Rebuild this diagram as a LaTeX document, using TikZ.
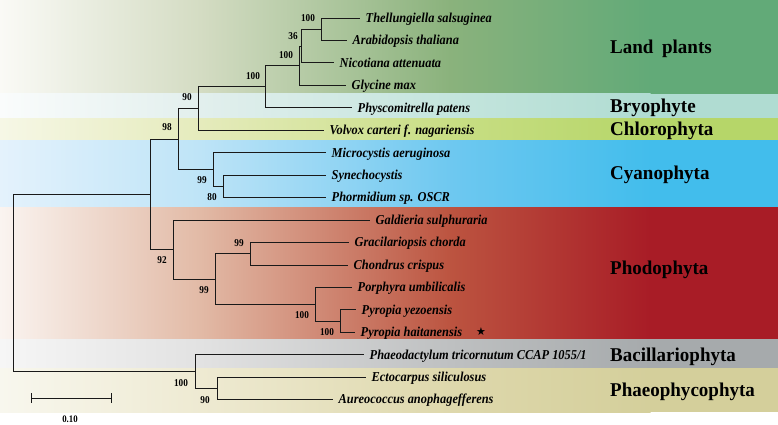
\documentclass[tikz,border=0pt]{standalone}
\usepackage{graphicx}
\usepackage{fontspec}
\setmainfont{Liberation Serif}
\newfontfamily\symfont{DejaVu Sans}
\newcommand{\taxfont}{\fontsize{13.6}{15}\selectfont\bfseries\itshape}
\newcommand{\bsfont}{\fontsize{10.5}{12}\selectfont\bfseries}
\newcommand{\grpfont}{\fontsize{19.5}{22}\selectfont\bfseries}
\newcommand{\tx}[1]{\scalebox{0.91}[1]{#1}}
\newcommand{\bx}[1]{\scalebox{0.88}[1]{#1}}
\newcommand{\gx}[1]{\scalebox{0.975}[1]{#1}}
% band colours: c0 (x=0), c1 (x=200), c2 (x=450), c3 (x>=650)
\definecolor{lpA}{RGB}{250,250,246}\definecolor{lpB}{RGB}{212,220,195}\definecolor{lpC}{RGB}{138,178,124}\definecolor{lpD}{RGB}{98,170,120}
\definecolor{brA}{RGB}{250,252,252}\definecolor{brB}{RGB}{226,239,237}\definecolor{brC}{RGB}{196,229,221}\definecolor{brD}{RGB}{176,220,210}
\definecolor{chA}{RGB}{246,247,230}\definecolor{chB}{RGB}{229,235,188}\definecolor{chC}{RGB}{200,222,132}\definecolor{chD}{RGB}{182,214,105}
\definecolor{cyA}{RGB}{228,242,252}\definecolor{cyB}{RGB}{190,228,247}\definecolor{cyC}{RGB}{110,200,240}\definecolor{cyD}{RGB}{66,189,236}
\definecolor{phA}{RGB}{250,244,240}\definecolor{phB}{RGB}{226,186,166}\definecolor{phC}{RGB}{188,84,64}\definecolor{phD}{RGB}{168,28,38}
\definecolor{baA}{RGB}{246,246,246}\definecolor{baB}{RGB}{226,226,226}\definecolor{baC}{RGB}{190,192,193}\definecolor{baD}{RGB}{166,170,172}
\definecolor{paA}{RGB}{248,247,238}\definecolor{paB}{RGB}{238,234,210}\definecolor{paC}{RGB}{222,216,172}\definecolor{paD}{RGB}{212,207,155}
\newcommand{\mkband}[6]{%
  \shade[left color=#3,right color=#4] (0,#1) rectangle (200.6,#2);
  \shade[left color=#4,right color=#5] (200,#1) rectangle (450.6,#2);
  \shade[left color=#5,right color=#6] (450,#1) rectangle (650.6,#2);
  \fill[#6] (650,#1) rectangle (778,#2);}
\begin{document}
\begin{tikzpicture}[x=1pt,y=-1pt,
  br/.style={draw=black!90,line width=0.8pt},
  taxon/.style={anchor=base west,inner sep=0pt,xshift=5.5pt,yshift=-4.3pt,font=\taxfont},
  bs/.style={inner sep=0pt,font=\bsfont},
  grp/.style={anchor=base west,inner sep=0pt,yshift=-6.4pt,font=\grpfont}]
\useasboundingbox (0,0) rectangle (778,425);
\fill[white] (0,0) rectangle (778,425);
% bands
\mkband{0}{94.3}{lpA}{lpB}{lpC}{lpD}
\mkband{94}{118.3}{brA}{brB}{brC}{brD}
\mkband{118}{140.3}{chA}{chB}{chC}{chD}
\mkband{140}{207.3}{cyA}{cyB}{cyC}{cyD}
\mkband{207}{339.3}{phA}{phB}{phC}{phD}
\mkband{339}{368.3}{baA}{baB}{baC}{baD}
\mkband{368}{412}{paA}{paB}{paC}{paD}
% internal nodes
\coordinate (root) at (13,282.9);
\coordinate (A) at (150,194.25);
\coordinate (B) at (178,139);
\coordinate (C) at (198,108.5);
\coordinate (D) at (265,86.75);
\coordinate (E) at (299.5,65.7);
\coordinate (G) at (301,46.05);
\coordinate (F) at (321,29.2);
\coordinate (H) at (213,169.5);
\coordinate (I) at (223,186.35);
\coordinate (J) at (173,249.5);
\coordinate (K) at (215,278.95);
\coordinate (L) at (250,253.7);
\coordinate (M) at (315,304.2);
\coordinate (N) at (340,321.05);
\coordinate (O) at (195,371.55);
\coordinate (P) at (217,388.4);
% leaf ends
\coordinate (t1) at (360,18);
\coordinate (t2) at (347,40.45);
\coordinate (t3) at (334,62.9);
\coordinate (t4) at (346,85.35);
\coordinate (t5) at (352,107.8);
\coordinate (t6) at (324,130.25);
\coordinate (t7) at (326,152.7);
\coordinate (t8) at (326,175.15);
\coordinate (t9) at (326,197.6);
\coordinate (t10) at (370,220.05);
\coordinate (t11) at (349,242.5);
\coordinate (t12) at (348,264.95);
\coordinate (t13) at (352,287.4);
\coordinate (t14) at (356,309.85);
\coordinate (t15) at (355,332.3);
\coordinate (t16) at (364,354.75);
\coordinate (t17) at (366,377.2);
\coordinate (t18) at (333,399.65);
% branches
\draw[br] (root) |- (A);  \draw[br] (root) |- (O);
\draw[br] (A) |- (B);  \draw[br] (A) |- (J);
\draw[br] (B) |- (C);  \draw[br] (B) |- (H);
\draw[br] (C) |- (D);  \draw[br] (C) |- (t6);
\draw[br] (D) |- (E);  \draw[br] (D) |- (t5);
\draw[br] (E) |- (G);  \draw[br] (E) |- (t4);
\draw[br] (G) |- (F);  \draw[br] (G) |- (t3);
\draw[br] (F) |- (t1); \draw[br] (F) |- (t2);
\draw[br] (H) |- (t7); \draw[br] (H) |- (I);
\draw[br] (I) |- (t8); \draw[br] (I) |- (t9);
\draw[br] (J) |- (t10); \draw[br] (J) |- (K);
\draw[br] (K) |- (L);  \draw[br] (K) |- (M);
\draw[br] (L) |- (t11); \draw[br] (L) |- (t12);
\draw[br] (M) |- (t13); \draw[br] (M) |- (N);
\draw[br] (N) |- (t14); \draw[br] (N) |- (t15);
\draw[br] (O) |- (t16); \draw[br] (O) |- (P);
\draw[br] (P) |- (t17); \draw[br] (P) |- (t18);
% taxa
\node[taxon] (n1) at (t1) {\tx{Thellungiella salsuginea}};
\node[taxon] (n2) at (t2) {\tx{Arabidopsis thaliana}};
\node[taxon] (n3) at (t3) {\tx{Nicotiana attenuata}};
\node[taxon] (n4) at (t4) {\tx{Glycine max}};
\node[taxon] (n5) at (t5) {\tx{Physcomitrella patens}};
\node[taxon] (n6) at (t6) {\tx{Volvox carteri f. nagariensis}};
\node[taxon] (n7) at (t7) {\tx{Microcystis aeruginosa}};
\node[taxon] (n8) at (t8) {\tx{Synechocystis}};
\node[taxon] (n9) at (t9) {\tx{Phormidium sp. OSCR}};
\node[taxon] (n10) at (t10) {\tx{Galdieria sulphuraria}};
\node[taxon] (n11) at (t11) {\tx{Gracilariopsis chorda}};
\node[taxon] (n12) at (t12) {\tx{Chondrus crispus}};
\node[taxon] (n13) at (t13) {\tx{Porphyra umbilicalis}};
\node[taxon] (n14) at (t14) {\tx{Pyropia yezoensis}};
\node[taxon] (n15) at (t15) {\tx{Pyropia haitanensis}};
\node[taxon] (n16) at (t16) {\tx{Phaeodactylum tricornutum CCAP 1055/1}};
\node[taxon] (n17) at (t17) {\tx{Ectocarpus siliculosus}};
\node[taxon] (n18) at (t18) {\tx{Aureococcus anophagefferens}};
\node[inner sep=0pt,font=\symfont\fontsize{11}{12}\selectfont] (star) at (481,332) {★};
% bootstrap values
\node[bs] (bF) at (308,18) {\bx{100}};
\node[bs] (bG) at (293,36) {\bx{36}};
\node[bs] (bE) at (286,55) {\bx{100}};
\node[bs] (bD) at (253,76) {\bx{100}};
\node[bs] (bC) at (187,97) {\bx{90}};
\node[bs] (bB) at (167,127) {\bx{98}};
\node[bs] (bH) at (202,180) {\bx{99}};
\node[bs] (bI) at (212,197) {\bx{80}};
\node[bs] (bJ) at (162,260) {\bx{92}};
\node[bs] (bL) at (239,243) {\bx{99}};
\node[bs] (bK) at (204,290) {\bx{99}};
\node[bs] (bM) at (302,315) {\bx{100}};
\node[bs] (bN) at (327,332) {\bx{100}};
\node[bs] (bO) at (181,383) {\bx{100}};
\node[bs] (bP) at (205,400) {\bx{90}};
% group labels
\node[grp] (g1) at (610,47) {\gx{Land\hspace{0.45em}plants}};
\node[grp] (g2) at (610,106) {\gx{Bryophyte}};
\node[grp] (g3) at (610,129.5) {\gx{Chlorophyta}};
\node[grp] (g4) at (610,173) {\gx{Cyanophyta}};
\node[grp] (g5) at (610,268) {\gx{Phodophyta}};
\node[grp] (g6) at (610,355) {\gx{Bacillariophyta}};
\node[grp] (g7) at (610,390) {\gx{Phaeophycophyta}};
% scale bar
\coordinate (s1) at (31,398);
\coordinate (s2) at (111,398);
\draw[br] (s1) -- (s2);
\draw[br] ([yshift=5pt]s1) -- ([yshift=-5pt]s1);
\draw[br] ([yshift=5pt]s2) -- ([yshift=-5pt]s2);
\node[inner sep=0pt,font=\fontsize{10}{12}\selectfont\bfseries] (sl) at (70,419) {\bx{0.10}};
\end{tikzpicture}
\end{document}
